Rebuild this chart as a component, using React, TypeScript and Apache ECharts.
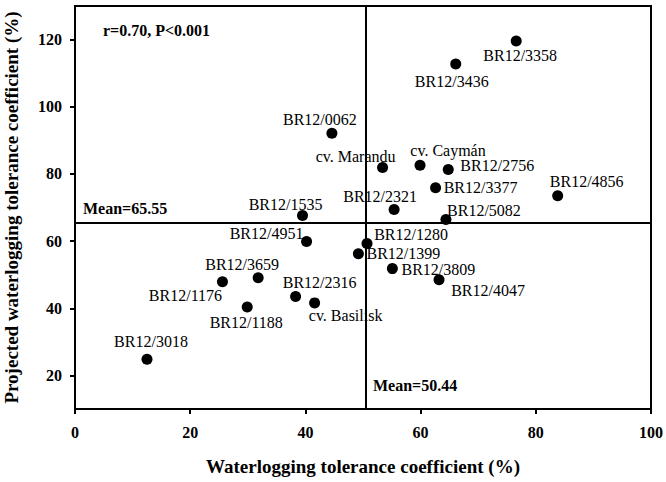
import React, { useEffect, useRef } from "react";
import * as echarts from "echarts";

// ---- data ----
const names = [
  "BR12/3358", "BR12/3436", "BR12/0062", "cv. Marandu", "cv. Caymán", "BR12/2756",
  "BR12/3377", "BR12/4856", "BR12/2321", "BR12/5082", "BR12/1535", "BR12/4951",
  "BR12/1280", "BR12/1399", "BR12/3809", "BR12/4047", "BR12/3659", "BR12/1176",
  "BR12/2316", "cv. Basilisk", "BR12/1188", "BR12/3018",
];
const xValues = [
  76.6, 66.1, 44.6, 53.4, 59.9, 64.8,
  62.6, 83.8, 55.4, 64.4, 39.5, 40.2,
  50.7, 49.2, 55.1, 63.2, 31.8, 25.6,
  38.3, 41.6, 29.9, 12.5,
];
const yValues = [
  119.6, 112.7, 92.1, 81.9, 82.6, 81.3,
  75.9, 73.5, 69.4, 66.4, 67.6, 59.9,
  59.3, 56.2, 51.8, 48.5, 49.1, 47.9,
  43.5, 41.6, 40.4, 24.8,
];
const xTicks = [0, 20, 40, 60, 80, 100];
const yTicks = [20, 40, 60, 80, 100, 120];
const meanX = 50.44;
const meanY = 65.55;
const xTitle = "Waterlogging tolerance coefficient (%)";
const yTitle = "Projected waterlogging tolerance coefficient (%)";
const statText = "r=0.70, P<0.001";

// ---- label placement (style) ----
const labelOffsets: Record<string, [number, number]> = {
  "BR12/3358": [4, 15],
  "BR12/3436": [-4, 17],
  "BR12/0062": [-12, -14],
  "cv. Marandu": [-27, -11],
  "cv. Caymán": [28, -15],
  "BR12/2756": [49, -4],
  "BR12/3377": [45, 0],
  "BR12/4856": [29, -14],
  "BR12/2321": [-14, -13],
  "BR12/5082": [38, -9],
  "BR12/1535": [-17, -11],
  "BR12/4951": [-40, -8],
  "BR12/1280": [44, -9],
  "BR12/1399": [45, 0],
  "BR12/3809": [46, 1],
  "BR12/4047": [49, 11],
  "BR12/3659": [-16, -13],
  "BR12/1176": [-37, 14],
  "BR12/2316": [24, -14],
  "cv. Basilisk": [31, 13],
  "BR12/1188": [-1, 16],
  "BR12/3018": [4, -18],
};

const SERIF = "'Liberation Serif', 'Times New Roman', serif";

export default function App() {
  const ref = useRef<HTMLDivElement>(null);
  useEffect(() => {
    document.body.style.margin = "0";
    if (!ref.current) return;
    const chart = echarts.init(ref.current, undefined, { renderer: "svg" });
    const labelStyle = {
      show: true,
      position: "inside",
      formatter: "{b}",
      fontFamily: SERIF,
      fontSize: 16,
      fontWeight: "normal",
      color: "#000",
    };
    const data = names.map((n, i) => ({
      name: n,
      value: [xValues[i], yValues[i]],
      label: { ...labelStyle, offset: labelOffsets[n] || [0, -14] },
    }));
    chart.setOption({
      animation: false,
      backgroundColor: "#fff",
      grid: {
        left: 75,
        right: 15,
        top: 6,
        bottom: 73,
        containLabel: false,
        outerBoundsMode: "none",
        show: true,
        borderColor: "#000",
        borderWidth: 2,
        backgroundColor: "transparent",
      },
      xAxis: {
        type: "value",
        min: xTicks[0],
        max: xTicks[xTicks.length - 1],
        interval: 20,
        name: xTitle,
        nameLocation: "middle",
        nameGap: 48,
        nameTextStyle: { fontFamily: SERIF, fontWeight: "bold", fontSize: 19, color: "#000" },
        axisLine: { show: true, lineStyle: { color: "#000", width: 2 } },
        axisTick: { show: true, length: 5, lineStyle: { color: "#000", width: 2 } },
        axisLabel: { fontFamily: SERIF, fontWeight: "bold", fontSize: 16, color: "#000", margin: 15 },
        splitLine: { show: false },
      },
      yAxis: {
        type: "value",
        min: 10,
        max: 130,
        name: yTitle,
        nameLocation: "middle",
        nameGap: 54,
        nameRotate: 90,
        nameTextStyle: { fontFamily: SERIF, fontWeight: "bold", fontSize: 19, color: "#000" },
        axisLine: { show: true, lineStyle: { color: "#000", width: 2 } },
        axisTick: { show: true, length: 5, customValues: yTicks, lineStyle: { color: "#000", width: 2 } },
        axisLabel: {
          fontFamily: SERIF, fontWeight: "bold", fontSize: 16, color: "#000", margin: 13,
          customValues: yTicks,
        },
        splitLine: { show: false },
      },
      graphic: [
        {
          type: "text",
          x: 103,
          y: 30,
          style: {
            text: statText,
            font: `bold 16px ${SERIF}`,
            fill: "#000",
            textVerticalAlign: "middle",
          },
        },
        {
          type: "text",
          x: 83,
          y: 208,
          style: {
            text: `Mean=${meanY}`,
            font: `bold 16px ${SERIF}`,
            fill: "#000",
            textVerticalAlign: "middle",
          },
        },
        {
          type: "text",
          x: 373,
          y: 385,
          style: {
            text: `Mean=${meanX}`,
            font: `bold 16px ${SERIF}`,
            fill: "#000",
            textVerticalAlign: "middle",
          },
        },
      ],
      series: [
        {
          type: "scatter",
          symbol: "circle",
          symbolSize: 11,
          itemStyle: { color: "#000", opacity: 1 },
          data,
          label: labelStyle,
          markLine: {
            silent: true,
            symbol: "none",
            label: { show: false },
            lineStyle: { color: "#000", width: 2, type: "solid", opacity: 1 },
            data: [{ xAxis: meanX }, { yAxis: meanY }],
          },
        },
      ],
    });
    return () => chart.dispose();
  }, []);
  return <div ref={ref} style={{ width: 666, height: 482 }} />;
}
